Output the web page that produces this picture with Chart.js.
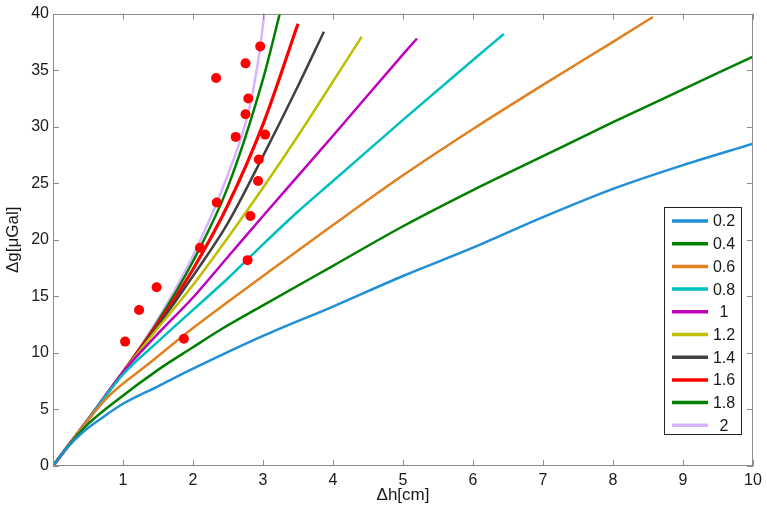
<!DOCTYPE html>
<html lang="en">
<head>
  <meta charset="UTF-8" />
  <title>Δg vs Δh</title>
  <script src="https://cdn.jsdelivr.net/npm/chart.js"></script>
  <style>
    body {
      margin: 0;
      background: white;
    }
    .chart-container {
      width: 767px;
      height: 515px;
    }
  </style>
</head>
<body>

  <div class="chart-container">
    <canvas id="gravityChart"></canvas>
  </div>

  <script>
    // curve labels and colours (legend order)
    const curveLabels = ["0.2", "0.4", "0.6", "0.8", "1", "1.2", "1.4", "1.6", "1.8", "2"];
    const curveColors = ["#1f8fd8", "#008000", "#e0801f", "#00bfbf", "#bf00bf",
                         "#bfbf00", "#404040", "#ff0000", "#008000", "#d6b4ff"];

    // Δh [cm] / Δg [µGal] for each curve
    const h02 = [0, 0.2, 0.43, 0.7, 1, 1.5, 2, 3, 4, 5, 6, 7, 8, 9, 10];
    const g02 = [0, 1.6, 3.0, 4.25, 5.5, 7.05, 8.6, 11.5, 14.1, 16.8, 19.3, 22.0, 24.5, 26.6, 28.5];
    const h04 = [0, 0.25, 0.5, 0.91, 1.5, 2, 2.38, 3, 4, 5, 6, 7, 8, 9, 10];
    const g04 = [0, 2.0, 3.7, 5.8, 8.5, 10.5, 12.0, 14.2, 17.7, 21.2, 24.4, 27.4, 30.4, 33.3, 36.2];
    const h06 = [0, 0.25, 0.5, 0.8, 1.38, 2, 3, 4, 5, 6, 7, 8, 8.57];
    const g06 = [0, 2.05, 4.05, 6.2, 9.1, 12.2, 16.8, 21.3, 25.7, 29.8, 33.7, 37.5, 39.7];
    const h08 = [0, 0.25, 0.5, 1, 1.5, 2, 2.5, 3, 3.5, 4, 5, 6, 6.44];
    const g08 = [0, 2.05, 4.1, 8.1, 11.0, 13.8, 16.6, 19.6, 22.5, 25.2, 30.6, 35.9, 38.2];
    const h10 = [0, 0.25, 0.5, 1, 1.5, 2, 2.5, 3, 4, 5, 5.2];
    const g10 = [0, 2.05, 4.1, 8.3, 11.7, 14.9, 18.5, 22.1, 29.2, 36.4, 37.8];
    const h12 = [0, 0.25, 0.5, 1, 1.5, 2, 2.5, 3, 3.5, 4, 4.41];
    const g12 = [0, 2.05, 4.1, 8.3, 12.2, 16.0, 20.2, 24.6, 29.2, 34.0, 37.95];
    const h14 = [0, 0.25, 0.5, 1, 1.5, 2, 2.5, 3, 3.5, 3.87];
    const g14 = [0, 2.05, 4.1, 8.3, 12.4, 16.8, 21.5, 27.4, 33.6, 38.4];
    const h16 = [0, 0.25, 0.5, 1, 1.5, 2, 2.5, 3, 3.5];
    const g16 = [0, 2.05, 4.1, 8.3, 12.6, 17.4, 23.1, 30.2, 39.1];
    const h18 = [0, 0.25, 0.5, 1, 1.5, 2, 2.5, 3, 3.24];
    const g18 = [0, 2.05, 4.1, 8.3, 12.8, 18.1, 24.7, 34.2, 40.0];
    const h20 = [0, 0.25, 0.5, 1, 1.5, 2, 2.5, 2.8, 2.95, 3.02];
    const g20 = [0, 2.05, 4.1, 8.3, 13.0, 18.6, 25.8, 31.5, 36.6, 40.0];

    // measured points
    const dotH = [1.03, 1.23, 1.48, 1.87, 2.10, 2.34, 2.33, 2.61, 2.75, 2.79, 2.75, 2.78, 2.82, 2.93, 2.94, 2.96, 3.03];
    const dotG = [11.0, 13.8, 15.8, 11.25, 19.3, 23.3, 34.3, 29.1, 35.6, 32.5, 31.1, 18.2, 22.1, 25.2, 27.1, 37.1, 29.3];

    const xTicks = [1, 2, 3, 4, 5, 6, 7, 8, 9, 10];
    const yTicks = [0, 5, 10, 15, 20, 25, 30, 35, 40];

    const curveH = [h02, h04, h06, h08, h10, h12, h14, h16, h18, h20];
    const curveG = [g02, g04, g06, g08, g10, g12, g14, g16, g18, g20];

    const toPoints = (xs, ys) => xs.map((v, i) => ({ x: v, y: ys[i] }));

    const datasets = curveLabels.map((label, i) => ({
      label: label,
      data: toPoints(curveH[i], curveG[i]),
      showLine: true,
      borderColor: curveColors[i],
      borderWidth: label === "1.6" ? 3.2 : 2.5,
      pointRadius: 0,
      cubicInterpolationMode: "monotone",
      fill: false,
      order: 1
    }));

    datasets.push({
      label: "data",
      data: toPoints(dotH, dotG),
      showLine: false,
      pointRadius: 5,
      pointBackgroundColor: "#ff0000",
      pointBorderWidth: 0,
      order: 0
    });

    const font = "'Liberation Sans', Arial, sans-serif";

    // box, inward ticks and legend drawn like the original figure
    const framePlugin = {
      id: "frame",
      afterDraw(chart) {
        const { ctx, chartArea: a, scales: { x, y } } = chart;
        ctx.save();
        ctx.strokeStyle = "#8c8c8c";
        ctx.lineWidth = 1;
        ctx.strokeRect(Math.round(a.left) + 0.5, Math.round(a.top) + 0.5,
                       Math.round(a.width) - 1, Math.round(a.height) - 1);
        ctx.beginPath();
        xTicks.forEach(t => {
          const px = Math.round(x.getPixelForValue(t)) + 0.5;
          ctx.moveTo(px, a.bottom); ctx.lineTo(px, a.bottom - 6);
          ctx.moveTo(px, a.top); ctx.lineTo(px, a.top + 6);
        });
        yTicks.forEach(t => {
          const py = Math.round(y.getPixelForValue(t)) + 0.5;
          ctx.moveTo(a.left, py); ctx.lineTo(a.left + 6, py);
          ctx.moveTo(a.right, py); ctx.lineTo(a.right - 6, py);
        });
        ctx.stroke();

        // legend
        const bx = 664.5, by = 207.5, bw = 77, bh = 227, row = 22.7;
        ctx.fillStyle = "white";
        ctx.fillRect(bx, by, bw, bh);
        ctx.strokeStyle = "#222";
        ctx.strokeRect(bx, by, bw, bh);
        ctx.font = "16px " + font;
        ctx.textAlign = "center";
        ctx.textBaseline = "middle";
        curveLabels.forEach((label, i) => {
          const ly = by + 13.5 + i * row;
          ctx.strokeStyle = curveColors[i];
          ctx.lineWidth = 3.5;
          ctx.beginPath();
          ctx.moveTo(672, ly); ctx.lineTo(708, ly);
          ctx.stroke();
          ctx.fillStyle = "#1a1a1a";
          ctx.fillText(label, 724, ly + 1);
        });
        ctx.restore();
      }
    };

    new Chart(document.getElementById("gravityChart"), {
      type: "scatter",
      data: { datasets: datasets },
      options: {
        responsive: true,
        maintainAspectRatio: false,
        animation: false,
        layout: { padding: { top: 12, right: 14, left: 0, bottom: 0 } },
        plugins: {
          legend: { display: false },
          tooltip: { enabled: false }
        },
        scales: {
          x: {
            type: "linear",
            min: 0,
            max: 10,
            grid: { display: false, drawTicks: false },
            border: { display: false },
            afterFit(scale) { scale.height = 49; },
            afterBuildTicks(scale) { scale.ticks = [0].concat(xTicks).map(v => ({ value: v })); },
            ticks: {
              color: "#1a1a1a",
              padding: 5,
              font: { family: font, size: 16 },
              maxRotation: 0,
              callback: v => (v === 0 ? "" : v)
            },
            title: {
              display: true,
              text: "Δh[cm]",
              color: "#1a1a1a",
              padding: { top: 0, bottom: 9 },
              font: { family: font, size: 17 }
            }
          },
          y: {
            type: "linear",
            min: 0,
            max: 40,
            grid: { display: false, drawTicks: false },
            border: { display: false },
            afterFit(scale) { scale.width = 53; },
            afterBuildTicks(scale) { scale.ticks = yTicks.map(v => ({ value: v })); },
            ticks: {
              color: "#1a1a1a",
              padding: 4,
              font: { family: font, size: 16 }
            },
            title: {
              display: true,
              text: "Δg[μGal]",
              color: "#1a1a1a",
              padding: { top: 3, bottom: 0 },
              font: { family: font, size: 17 }
            }
          }
        }
      },
      plugins: [framePlugin]
    });
  </script>

</body>
</html>
